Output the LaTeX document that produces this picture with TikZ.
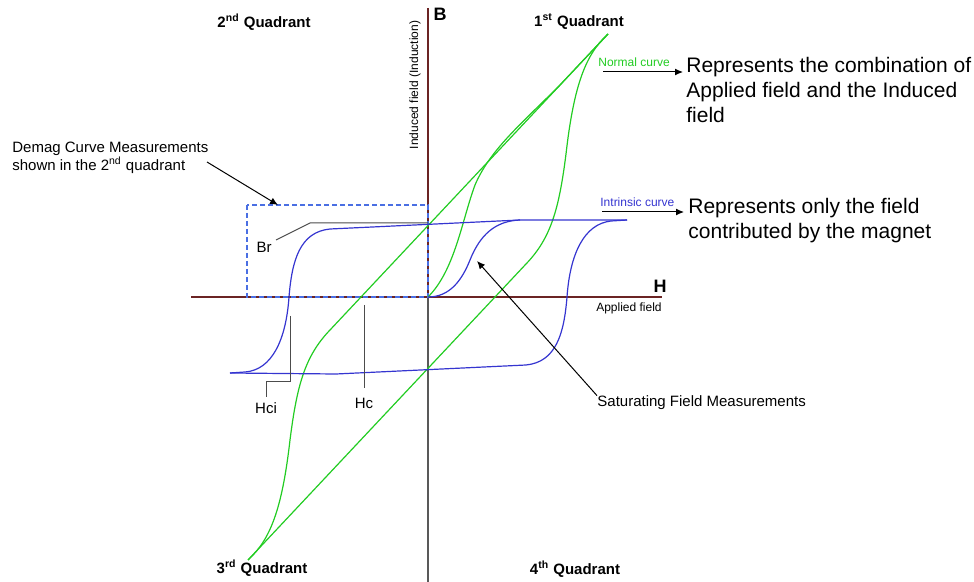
\documentclass[tikz,border=0pt]{standalone}
\usepackage{fontspec}
\setmainfont{Liberation Sans}
\usetikzlibrary{arrows.meta}
\definecolor{Axis}{HTML}{6B2424}
\definecolor{Normal}{HTML}{22CC22}
\definecolor{Intr}{HTML}{3535D0}
\definecolor{Demag}{HTML}{4A6FE3}

\begin{document}
\begin{tikzpicture}[x=0.5pt,y=-0.5pt,font=\fontsize{7.5}{9}\selectfont,
  lbl/.style={inner sep=0pt},
  quad/.style={inner sep=0pt,font=\fontsize{7.5}{9}\selectfont\bfseries},
  big/.style={inner sep=0pt,align=left,font=\fontsize{10.5}{12.5}\selectfont},
  tiny/.style={inner sep=0pt,font=\fontsize{6}{7}\selectfont},
  ptr/.style={-{Latex[length=4pt,width=3.5pt]},black,line width=0.5pt},
  normal/.style={Normal,line width=0.6pt},
  intr/.style={Intr,line width=0.6pt},
  lead/.style={black!70,line width=0.5pt}]
  \useasboundingbox (0,0) rectangle (974,582);

  % axes
  \coordinate (O) at (428,297);
  \coordinate (hL) at (191,297);
  \coordinate (hR) at (662,297);
  \coordinate (vT) at (428,8);
  \coordinate (vB) at (428,582);
  \draw[gray!70!black,line width=0.8pt] (O) -- (vB);
  \draw[Axis,line width=0.8pt] (vT) -- (O);
  \draw[Axis,line width=1pt] (hL) -- (hR);
  \node[font=\fontsize{9}{10}\selectfont\bfseries,inner sep=0pt] (Blbl) at (440,14) {B};
  \node[font=\fontsize{9}{10}\selectfont\bfseries,inner sep=0pt] (Hlbl) at (660,286) {H};
  \node[tiny,rotate=90] (Bname) at (415,85) {Induced field (Induction)};
  \node[tiny] (Hname) at (629,308) {Applied field};

  % quadrants
  \foreach \n/\x/\y/\s in {q2/264/22/2\textsuperscript{nd},q1/579/22/1\textsuperscript{st},
                            q3/262/568/3\textsuperscript{rd},q4/575/569/4\textsuperscript{th}}
    \node[quad] (\n) at (\x,\y) {\s{} Quadrant};

  % demag box
  \draw[Demag,dashed,dash pattern=on 2.5pt off 1.5pt,line width=0.6pt] (247,205) rectangle (O);

  % normal curve (green)
  \draw[normal] (608,34) -- (330,330) .. controls (305,356) and (297,385) .. (290,440)
    .. controls (282,510) and (270,540) .. (248,560);
  \draw[normal] (248,560) -- (526,264) .. controls (551,238) and (559,209) .. (566,154)
    .. controls (574,84) and (586,54) .. (608,34);
  \draw[normal] (O) .. controls (455,270) and (462,220) .. (475,185)
    .. controls (490,150) and (520,125) .. (560,85) -- (608,34);

  % intrinsic curve (blue)
  \draw[intr] (627,220) -- (520,220) -- (330,229) .. controls (300,232) and (292,260) .. (289,297)
    .. controls (286,340) and (272,370) .. (245,372) -- (230,373);
  \draw[intr] (230,373) -- (336,374) -- (526,365) .. controls (556,362) and (564,334) .. (567,297)
    .. controls (570,254) and (584,224) .. (611,221) -- (627,220);
  \draw[intr] (O) .. controls (450,297) and (462,280) .. (470,260)
    .. controls (480,235) and (495,221) .. (520,220);

  % Br, Hc, Hci
  \node[lbl] (Br) at (264,247) {Br};
  \coordinate (BrA) at (276,240);
  \coordinate (BrB) at (310,223);
  \coordinate (BrC) at (428,223);
  \draw[lead] (BrA) -- (BrB) -- (BrC);
  \node[lbl] (Hc) at (364,403) {Hc};
  \coordinate (HcA) at (364,305);
  \draw[lead] (HcA) -- (Hc.north |- 0,388);
  \node[lbl] (Hci) at (266,408) {Hci};
  \coordinate (HciA) at (290,316);
  \coordinate (HciB) at (290,382);
  \draw[lead] (HciA) -- (HciB) -- (Hci.north |- HciB) -- (Hci.north |- 0,397);

  % annotations
  \node[lbl,align=left,anchor=north west] (demag) at (12,142) {Demag Curve Measurements\\shown in the 2\textsuperscript{nd} quadrant};
  \coordinate (demagA) at (207,162);
  \coordinate (demagB) at (278,205);
  \draw[ptr] (demagA) -- (demagB);

  \node[lbl,anchor=west] (satur) at (597,403) {Saturating Field Measurements};
  \coordinate (saturB) at (477,261);
  \draw[ptr] (satur.north west) -- (saturB);

  \node[tiny,Normal,anchor=base west] (normlbl) at (598,67) {Normal curve};
  \coordinate (normA) at (603,72);
  \coordinate (normB) at (683,72);
  \draw[ptr] (normA) -- (normB);
  \node[big,anchor=north west] (normtxt) at (686,57) {Represents the combination of\\Applied field and the Induced\\field};

  \node[tiny,Intr,anchor=base west] (intrlbl) at (600,207) {Intrinsic curve};
  \coordinate (intrA) at (602,212);
  \coordinate (intrB) at (684,212);
  \draw[ptr] (intrA) -- (intrB);
  \node[big,anchor=north west] (intrtxt) at (688,198) {Represents only the field\\contributed by the magnet};
\end{tikzpicture}
\end{document}
